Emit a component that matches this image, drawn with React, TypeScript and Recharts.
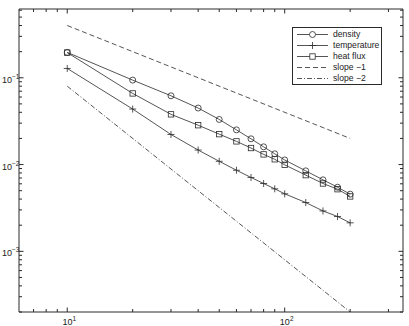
import React from 'react';
import { ComposedChart, Line, XAxis, YAxis, Legend } from 'recharts';

const steps = [10, 20, 30, 40, 50, 60, 70, 80, 90, 100, 125, 150, 175, 200];
const density = [0.196, 0.094, 0.062, 0.0448, 0.0331, 0.0251, 0.0198, 0.016, 0.0133, 0.0113, 0.00846, 0.00667, 0.00548, 0.00456];
const temperature = [0.128, 0.0436, 0.0222, 0.0147, 0.0109, 0.0086, 0.0071, 0.00605, 0.00525, 0.0046, 0.00365, 0.00292, 0.00252, 0.00213];
const heatFlux = [0.195, 0.066, 0.0379, 0.0284, 0.0224, 0.0185, 0.0155, 0.0131, 0.0115, 0.00993, 0.00755, 0.00605, 0.0052, 0.00429];

const slopeX = [10, 200];
const slopeOne = [0.4, 0.02];
const slopeTwo = [0.08, 0.0002];

const xTicks = [7, 8, 9, 10, 20, 30, 40, 50, 60, 70, 80, 90, 100, 200, 300];
const yTicks = [
  0.0002, 0.0003, 0.0004, 0.0005, 0.0006, 0.0007, 0.0008, 0.0009,
  0.001, 0.002, 0.003, 0.004, 0.005, 0.006, 0.007, 0.008, 0.009,
  0.01, 0.02, 0.03, 0.04, 0.05, 0.06, 0.07, 0.08, 0.09,
  0.1, 0.2, 0.3, 0.4, 0.5, 0.6,
];
const xLabels: Record<number, string> = { 10: '1', 100: '2' };
const yLabels: Record<number, string> = { 0.001: '\u22123', 0.01: '\u22122', 0.1: '\u22121' };

const series = steps.map((x, i) => ({
  x,
  density: density[i],
  temperature: temperature[i],
  heatFlux: heatFlux[i],
}));
const slopeOneData = slopeX.map((x, i) => ({ x, v: slopeOne[i] }));
const slopeTwoData = slopeX.map((x, i) => ({ x, v: slopeTwo[i] }));

const INK = '#2a2a2a';
const FONT = '"Liberation Sans", Arial, sans-serif';
const X_DOMAIN: [number, number] = [6, 350];
const Y_DOMAIN: [number, number] = [0.0002, 0.62];

const isMajor = (v: number) => Math.abs(Math.log10(v) - Math.round(Math.log10(v))) < 1e-6;

function BottomTick({ x, y, payload }: any) {
  const major = isMajor(payload.value);
  const sup = xLabels[payload.value];
  return (
    <g>
      <line x1={x} x2={x} y1={y} y2={y - (major ? 4.5 : 3)} stroke={INK} />
      {sup && (
        <text x={x + 2} y={y + 13} textAnchor="middle" fontSize={9} fontFamily={FONT} fill="#222">
          10
          <tspan fontSize={6.5} dy={-4}>{sup}</tspan>
        </text>
      )}
    </g>
  );
}

function TopTick({ x, y, payload }: any) {
  const major = isMajor(payload.value);
  return <line x1={x} x2={x} y1={y} y2={y + (major ? 4.5 : 3)} stroke={INK} />;
}

function LeftTick({ x, y, payload }: any) {
  const major = isMajor(payload.value);
  const sup = yLabels[payload.value];
  return (
    <g>
      <line x1={x} x2={x + (major ? 4.5 : 3)} y1={y} y2={y} stroke={INK} />
      {sup && (
        <text x={2} y={y + 5} textAnchor="start" fontSize={9} fontFamily={FONT} fill="#222">
          10
          <tspan fontSize={6.5} dy={-4}>{sup}</tspan>
        </text>
      )}
    </g>
  );
}

function RightTick({ x, y, payload }: any) {
  const major = isMajor(payload.value);
  return <line x1={x - (major ? 4.5 : 3)} x2={x} y1={y} y2={y} stroke={INK} />;
}

const circleDot = ({ cx, cy, index }: any) => (
  <circle key={`c${index}`} cx={cx} cy={cy} r={3} fill="none" stroke={INK} strokeWidth={0.8} />
);
const plusDot = ({ cx, cy, index }: any) => (
  <path key={`p${index}`} d={`M${cx - 3.5},${cy}H${cx + 3.5}M${cx},${cy - 3.5}V${cy + 3.5}`} stroke={INK} strokeWidth={0.8} />
);
const squareDot = ({ cx, cy, index }: any) => (
  <rect key={`s${index}`} x={cx - 2.7} y={cy - 2.7} width={5.4} height={5.4} fill="none" stroke={INK} strokeWidth={0.8} />
);

const legendRows = [
  { label: 'density', marker: 'circle', dash: undefined },
  { label: 'temperature', marker: 'plus', dash: undefined },
  { label: 'heat flux', marker: 'square', dash: undefined },
  { label: 'slope \u22121', marker: 'none', dash: '5 3' },
  { label: 'slope \u22122', marker: 'none', dash: '5 2 1 2' },
];

function LegendBox() {
  return (
    <div
      style={{
        border: `1px solid ${INK}`,
        background: '#fff',
        width: 88,
        height: 55,
        boxSizing: 'content-box',
        paddingTop: 1,
      }}
    >
      {legendRows.map((r) => (
        <div key={r.label} style={{ display: 'flex', alignItems: 'center', height: 11 }}>
          <svg width={36} height={11} style={{ display: 'block', marginLeft: 4 }}>
            <line x1={0} x2={31} y1={5.5} y2={5.5} stroke={INK} strokeWidth={0.8} strokeDasharray={r.dash} />
            {r.marker === 'circle' && <circle cx={15.5} cy={5.5} r={3} fill="#fff" stroke={INK} strokeWidth={0.8} />}
            {r.marker === 'plus' && <path d="M12,5.5H19M15.5,2V9" stroke={INK} strokeWidth={0.8} />}
            {r.marker === 'square' && <rect x={12.8} y={2.8} width={5.4} height={5.4} fill="#fff" stroke={INK} strokeWidth={0.8} />}
          </svg>
          <span style={{ fontFamily: FONT, fontSize: 8.6, color: '#222', lineHeight: '11px' }}>{r.label}</span>
        </div>
      ))}
    </div>
  );
}

export default function App() {
  return (
    <div style={{ position: 'absolute', left: 0, top: 0, width: 409, height: 326, background: '#fff' }}>
      <ComposedChart width={409} height={326} data={series} margin={{ top: 8, right: 5, bottom: 0, left: 0 }}>
        <XAxis
          xAxisId="b"
          dataKey="x"
          type="number"
          scale="log"
          domain={X_DOMAIN}
          allowDataOverflow
          ticks={xTicks}
          interval={0}
          tickSize={0}
          tickMargin={0}
          tick={<BottomTick />}
          tickLine={false}
          axisLine={{ stroke: INK }}
          height={14}
        />
        <XAxis
          xAxisId="t"
          orientation="top"
          dataKey="x"
          type="number"
          scale="log"
          domain={X_DOMAIN}
          allowDataOverflow
          ticks={xTicks}
          interval={0}
          tickSize={0}
          tickMargin={0}
          tick={<TopTick />}
          tickLine={false}
          axisLine={{ stroke: INK }}
          height={1}
        />
        <YAxis
          yAxisId="l"
          type="number"
          scale="log"
          domain={Y_DOMAIN}
          allowDataOverflow
          ticks={yTicks}
          interval={0}
          tickSize={0}
          tickMargin={0}
          tick={<LeftTick />}
          tickLine={false}
          axisLine={{ stroke: INK }}
          width={19}
        />
        <YAxis
          yAxisId="r"
          orientation="right"
          type="number"
          scale="log"
          domain={Y_DOMAIN}
          allowDataOverflow
          ticks={yTicks}
          interval={0}
          tickSize={0}
          tickMargin={0}
          tick={<RightTick />}
          tickLine={false}
          axisLine={{ stroke: INK }}
          width={1}
        />
        <Legend
          content={() => <LegendBox />}
          layout="horizontal"
          align="center"
          verticalAlign="middle"
          wrapperStyle={{ position: 'absolute', left: 292, top: 27, width: 90, height: 57 }}
        />
        {/* invisible series so the top/right frame axes get rendered */}
        <Line
          xAxisId="t"
          yAxisId="r"
          dataKey="density"
          stroke="none"
          dot={false}
          activeDot={false}
          legendType="none"
          isAnimationActive={false}
        />
        <Line
          xAxisId="b"
          yAxisId="l"
          data={slopeOneData}
          dataKey="v"
          stroke={INK}
          strokeWidth={0.8}
          strokeDasharray="5 3"
          dot={false}
          isAnimationActive={false}
        />
        <Line
          xAxisId="b"
          yAxisId="l"
          data={slopeTwoData}
          dataKey="v"
          stroke={INK}
          strokeWidth={0.8}
          strokeDasharray="5 2 1 2"
          dot={false}
          isAnimationActive={false}
        />
        <Line xAxisId="b" yAxisId="l" dataKey="density" stroke={INK} strokeWidth={0.8} dot={circleDot} isAnimationActive={false} />
        <Line xAxisId="b" yAxisId="l" dataKey="temperature" stroke={INK} strokeWidth={0.8} dot={plusDot} isAnimationActive={false} />
        <Line xAxisId="b" yAxisId="l" dataKey="heatFlux" stroke={INK} strokeWidth={0.8} dot={squareDot} isAnimationActive={false} />
      </ComposedChart>
    </div>
  );
}
